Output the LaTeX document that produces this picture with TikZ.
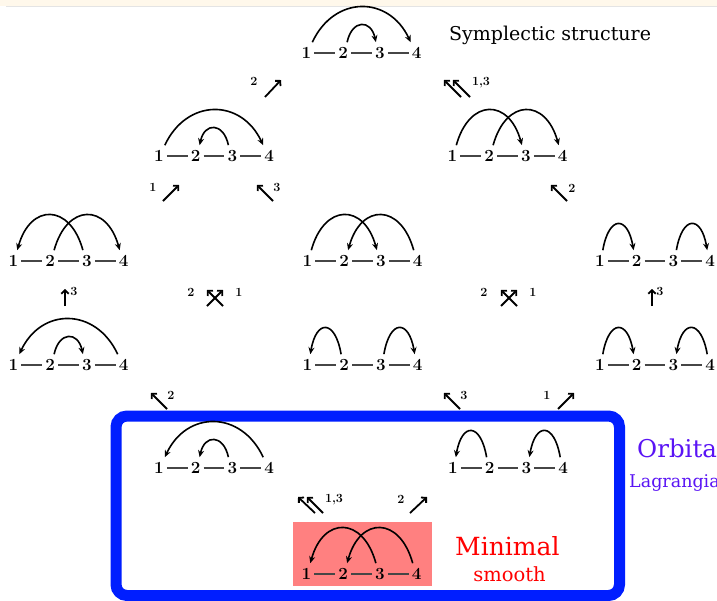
\documentclass[tikz,border=0pt]{standalone}
\usepackage{fontspec}
\newfontfamily\titlefont{DejaVu Serif}
\usetikzlibrary{arrows.meta}
\definecolor{cream}{RGB}{255,248,235}
\definecolor{shadowgray}{RGB}{228,228,228}
\definecolor{boxblue}{RGB}{0,30,255}
\definecolor{pinkfill}{RGB}{255,128,128}
\definecolor{orbviolet}{RGB}{90,20,245}
\definecolor{minred}{RGB}{255,0,0}
\definecolor{dashgray}{RGB}{70,70,70}
\tikzset{
  dig/.style={inner sep=0pt, font=\fontsize{17}{17}\selectfont\bfseries},
  dashln/.style={draw=dashgray, line width=1.6pt, shorten <=3pt, shorten >=3pt},
  arcln/.style={line width=1.6pt, -{Stealth[length=7pt,width=6pt]}},
  smarr/.style={line width=1.8pt, -{Straight Barb[length=3.5pt,width=7.5pt]}},
  lbl/.style={inner sep=0pt, font=\fontsize{12.5}{12.5}\selectfont\bfseries},
  ttl/.style={anchor=base west, inner sep=0pt},
}
\newcommand\chainat[3]{%
  \foreach \i in {1,2,3,4}{\node[dig] (#1-\i) at ({#2+(\i-2.5)*36.8},#3) {\i};}
  \foreach \i/\j in {1/2,2/3,3/4}{\draw[dashln] (#1-\i.east) -- (#1-\j.west);}
}
\newcommand\rarc[6]{\draw[arcln] ([xshift=#6pt,yshift=5pt]#1-#2.north) .. controls +(#5pt,#4pt) and +(-#5pt,#4pt) .. ([xshift=-#6pt,yshift=5pt]#1-#3.north);}
\newcommand\larc[6]{\draw[arcln] ([xshift=-#6pt,yshift=5pt]#1-#2.north) .. controls +(-#5pt,#4pt) and +(#5pt,#4pt) .. ([xshift=#6pt,yshift=5pt]#1-#3.north);}
\newcommand\sarr[3]{\coordinate (#1-t) at (#2); \coordinate (#1-h) at (#3); \draw[smarr] (#1-t) -- (#1-h);}
\begin{document}
\begin{tikzpicture}[x=1pt,y=-1pt]
\useasboundingbox (0,0) rectangle (717,600);
\clip (0,0) rectangle (717,600);
\fill[white] (0,0) rectangle (717,600);
\fill[cream] (0,0) rectangle (717,6);
\draw[shadowgray, line width=1.5pt] (6,6.7) -- (717,6.7);
% boxes
\fill[pinkfill] (293,522) rectangle (432,586);
\draw[boxblue, line width=11pt, rounded corners=11pt] (116,416) rectangle (619.5,595.5);
% chains
\chainat{T}{361.5}{53}
\chainat{A}{214}{156}
\chainat{B}{507.5}{156}
\chainat{C}{68.5}{261}
\chainat{D}{362.5}{261}
\chainat{E}{655}{261}
\chainat{F}{68.5}{365}
\chainat{G}{362.5}{365}
\chainat{H}{655}{365}
\chainat{I}{214}{468}
\chainat{J}{508}{468}
\chainat{K}{361.5}{574}
% arcs
\rarc{T}{1}{4}{47}{22}{6} \rarc{T}{2}{3}{23}{5}{4}
\rarc{A}{1}{4}{47}{22}{6} \larc{A}{3}{2}{23}{5}{4}
\rarc{B}{1}{3}{47}{13}{4} \rarc{B}{2}{4}{47}{13}{4}
\larc{C}{3}{1}{47}{13}{4} \rarc{C}{2}{4}{47}{13}{4}
\rarc{D}{1}{3}{47}{13}{4} \larc{D}{4}{2}{47}{13}{4}
\rarc{E}{1}{2}{35}{6}{3} \rarc{E}{3}{4}{35}{6}{3}
\larc{F}{4}{1}{47}{22}{6} \rarc{F}{2}{3}{23}{5}{4}
\larc{G}{2}{1}{35}{6}{3} \rarc{G}{3}{4}{35}{6}{3}
\rarc{H}{1}{2}{35}{6}{3} \larc{H}{4}{3}{35}{6}{3}
\larc{I}{4}{1}{47}{22}{6} \larc{I}{3}{2}{23}{5}{4}
\larc{J}{2}{1}{35}{6}{3} \larc{J}{4}{3}{35}{6}{3}
\larc{K}{3}{1}{47}{13}{4} \larc{K}{4}{2}{47}{13}{4}
% small arrows rows 0-1
\node[lbl] (l01a) at (254,81) {2};
\sarr{s01a}{265,97}{281,80}
\sarr{s01b}{461,97}{444,80}
\sarr{s01c}{470,97}{453,80}
\node[lbl] (l01b) at (481,83) {1,3};
% rows 1-2
\node[lbl] (l12a) at (153,187) {1};
\sarr{s12a}{163,201}{179,185}
\sarr{s12b}{273,201}{257,185}
\node[lbl] (l12b) at (277,187) {3};
\sarr{s12c}{567,201}{551,185}
\node[lbl] (l12c) at (572,188) {2};
% rows 2-3
\sarr{s23a}{65,306}{65,289}
\node[lbl] (l23a) at (74,291) {3};
\sarr{s23b}{223,306}{207,290}
\sarr{s23c}{207,306}{223,290}
\node[lbl] (l23b) at (191,292) {2};
\node[lbl] (l23c) at (239,292) {1};
\sarr{s23d}{517,306}{501,290}
\sarr{s23e}{501,306}{517,290}
\node[lbl] (l23d) at (484,292) {2};
\node[lbl] (l23e) at (533,292) {1};
\sarr{s23f}{652,306}{652,289}
\node[lbl] (l23f) at (660,291) {3};
% rows 3-4
\sarr{s34a}{167,409}{151,393}
\node[lbl] (l34a) at (171,395) {2};
\sarr{s34b}{460,409}{444,393}
\node[lbl] (l34b) at (464,395) {3};
\node[lbl] (l34c) at (547,395) {1};
\sarr{s34c}{558,409}{574,393}
% rows 4-5
\sarr{s45a}{315,513}{298,497}
\sarr{s45b}{323,513}{307,497}
\node[lbl] (l45a) at (334,500) {1,3};
\node[lbl] (l45b) at (401,499) {2};
\sarr{s45c}{410,513}{427,497}
% texts
\node[ttl, font=\titlefont\fontsize{19}{19}\selectfont] (sym) at (449,40) {Symplectic structure};
\node[ttl, text=minred, font=\titlefont\fontsize{25}{25}\selectfont] (minimal) at (455,555) {Minimal};
\node[anchor=base, inner sep=0pt, text=minred, font=\titlefont\fontsize{19.5}{19.5}\selectfont] (smooth) at (509.5,581) {smooth};
\node[ttl, text=orbviolet, font=\titlefont\fontsize{24.5}{24.5}\selectfont] (orb) at (637,457) {Orbital};
\node[ttl, text=orbviolet, font=\titlefont\fontsize{17.5}{17.5}\selectfont] (lag) at (629,487) {Lagrangian};
\end{tikzpicture}
\end{document}
